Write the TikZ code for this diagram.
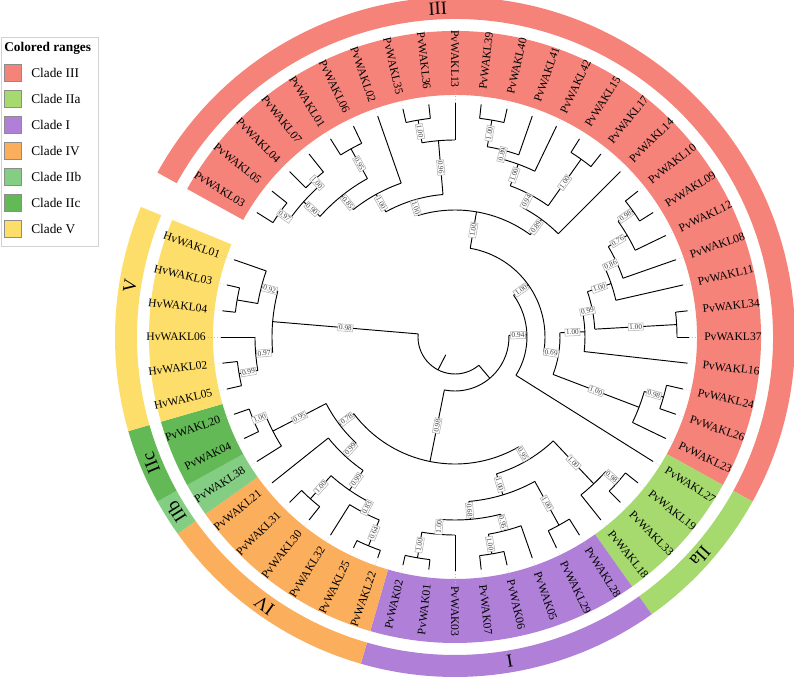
\documentclass[tikz,border=0pt]{standalone}
\usepackage{fontspec}
\setmainfont{Liberation Serif}
\usetikzlibrary{calc}

\definecolor{cIII}{RGB}{245,131,122}
\definecolor{cIIa}{RGB}{166,218,110}
\definecolor{cI}{RGB}{176,128,216}
\definecolor{cIV}{RGB}{251,174,92}
\definecolor{cIIb}{RGB}{131,206,131}
\definecolor{cIIc}{RGB}{99,185,86}
\definecolor{cV}{RGB}{254,222,107}

% reading side of a radial text: sets \rot and \anc
\newcommand\side[1]{%
  \pgfmathsetmacro\nrm{mod(#1+720,360)}%
  \pgfmathtruncatemacro\lft{and(\nrm>89.9,\nrm<269.9)}%
  \ifnum\lft=1 \pgfmathsetmacro\rot{#1+180}\def\anc{east}%
  \else \pgfmathsetmacro\rot{#1}\def\anc{west}\fi}

% ring segment: colour, start angle, end angle, inner r, outer r
\newcommand\band[5]{%
  \fill[#1] (#2:#4) arc[start angle=#2, end angle=#3, radius=#4]
    -- (#3:#5) arc[start angle=#3, end angle=#2, radius=#5] -- cycle;}

% inner node: name, angle, radius, parent radius, first child, last child, support
\newcommand\clade[7]{%
  \draw[branch] (#5:#3) arc[start angle=#5, end angle=#6, radius=#3];
  \coordinate (#1) at (#2:#3);
  \coordinate (#1-b) at (#2:#4);
  \draw[branch] (#1-b) -- (#1);
  \if\relax\detokenize{#7}\relax\else
    \side{#2}%
    \node[boot, rotate=\rot] (#1-s) at ($(#1-b)!0.5!(#1)$) {#7};
  \fi}

% leaf: slot, label, parent radius
\newcommand\leaf[3]{%
  \pgfmathsetmacro\la{180-(#1+5)*6.4285714}%
  \side{\la}%
  \draw[branch] (\la:#3) -- (\la:234);
  \draw[guide] (\la:234) -- (\la:248);
  \node[leaflab, rotate=\rot, anchor=\anc] (#2) at (\la:249) {#2};}

\begin{document}
\begin{tikzpicture}[
    x=0.75pt, y=0.75pt,
    branch/.style={line width=0.7pt, black},
    guide/.style={gray!55, dotted, line width=0.4pt},
    leaflab/.style={font=\fontsize{8.7}{9}\selectfont, inner sep=0pt},
    boot/.style={draw=gray!60, fill=white, text=black!75, inner sep=0.8pt,
                 font=\fontsize{5.5}{6}\selectfont},
    cladelab/.style={font=\fontsize{14}{15}\selectfont, inner sep=0pt},
    legtxt/.style={font=\fontsize{10}{11}\selectfont, anchor=west, inner sep=0pt},
]

    \useasboundingbox (-455,-342) rectangle (339,337);
    \fill[white] (-455,-342) rectangle (339,337);

    % colored ranges
    \foreach \c/\a/\b/\t/\m in {cIII/151.071/-28.929/III/93,
        cIIa/-28.929/-54.643/IIa/-41.8, cI/-54.643/-106.071/I/-80.4,
        cIV/-106.071/-144.643/IV/-125.4, cIIb/-144.643/-151.071/IIb/-147.9,
        cIIc/-151.071/-163.929/IIc/-157.5, cV/-163.929/-202.5/V/-189} {
      \band{\c}{\a}{\b}{242}{306}
      \band{\c}{\a}{\b}{318}{340}
      \node[cladelab, rotate=\m-90] (lab\t) at (\m:329) {\t};
    }

    % legend
    \draw[gray!35, line width=0.4pt] (-454,300) rectangle (-357,91);
    \node[legtxt, font=\fontsize{10}{11}\selectfont\bfseries] (legtitle) at (-451,289) {Colored ranges};
    \foreach \c/\t [count=\k from 0] in {cIII/III, cIIa/IIa, cI/I, cIV/IV,
        cIIb/IIb, cIIc/IIc, cV/V} {
      \pgfmathsetmacro\ly{264.5-26*\k}
      \draw[fill=\c, draw=black!45, line width=0.4pt] (-451,\ly-8.5) rectangle (-434,\ly+8.5);
      \node[legtxt] (leg\t) at (-424,\ly) {Clade \t};
    }

    % tree
    \clade{root}{-117.33}{37}{20}{-184.821}{-49.84}{}
    \clade{nV}{-184.821}{183}{37}{-194.464}{-175.179}{0.98}
    \clade{nX}{-194.464}{200}{183}{-199.286}{-189.643}{0.92}
    \clade{nHa}{-189.643}{221}{200}{-192.857}{-186.429}{}
    \clade{nY}{-175.179}{200}{183}{-180}{-170.357}{0.97}
    \clade{nHb}{-170.357}{219}{200}{-173.571}{-167.143}{0.99}
    \clade{nR1}{-49.84}{54}{37}{-101.35}{1.67}{}
    \clade{nP}{-101.35}{127}{54}{-142.835}{-59.866}{0.98}
    \clade{nQ}{-142.835}{145}{127}{-152.679}{-132.991}{0.78}
    \clade{nIIb}{-152.679}{205}{145}{-157.5}{-147.857}{0.95}
    \clade{nIIc}{-157.5}{218}{205}{-160.714}{-154.286}{1.00}
    \clade{nIV}{-132.991}{162}{145}{-141.429}{-124.554}{0.99}
    \clade{n4244}{-124.554}{186}{162}{-131.786}{-117.321}{0.99}
    \clade{n4344}{-131.786}{217}{186}{-135}{-128.571}{1.00}
    \clade{n42}{-117.321}{198}{186}{-122.143}{-112.5}{0.83}
    \clade{n4041}{-112.5}{226}{198}{-115.714}{-109.286}{0.64}
    \clade{nIIaI}{-59.866}{143}{127}{-73.125}{-46.607}{0.95}
    \clade{nI}{-73.125}{165}{143}{-85.179}{-61.071}{1.00}
    \clade{n3439}{-85.179}{183}{165}{-94.821}{-75.536}{0.68}
    \clade{n37}{-94.821}{198}{183}{-99.643}{-90}{1.00}
    \clade{n3839}{-99.643}{224}{198}{-102.857}{-96.429}{1.00}
    \clade{n34}{-75.536}{200}{183}{-80.357}{-70.714}{0.95}
    \clade{n3536}{-80.357}{220}{200}{-83.571}{-77.143}{1.00}
    \clade{n3233}{-61.071}{215}{165}{-64.286}{-57.857}{1.00}
    \clade{nIIa}{-46.607}{202}{143}{-51.429}{-41.786}{1.00}
    \clade{n2930}{-41.786}{218}{202}{-45}{-38.571}{0.98}
    \clade{nS}{1.67}{72}{54}{-32.143}{35.483}{0.94}
    \clade{nE}{35.483}{90}{72}{-9.292}{80.257}{1.00}
    \clade{nH}{-9.292}{105}{90}{-20.893}{2.31}{0.69}
    \clade{n23}{-20.893}{197}{105}{-25.714}{-16.071}{1.00}
    \clade{n2426}{-16.071}{217}{197}{-19.286}{-12.857}{0.98}
    \clade{n16}{2.31}{130}{105}{-6.429}{11.049}{1.00}
    \clade{n34x}{11.049}{140}{130}{3.214}{18.884}{0.99}
    \clade{n3437}{3.214}{222}{140}{0}{6.429}{1.00}
    \clade{n11}{18.884}{165}{140}{12.857}{24.911}{1.00}
    \clade{n08}{24.911}{178}{165}{19.286}{30.536}{0.86}
    \clade{n12}{30.536}{200}{178}{25.714}{35.357}{0.76}
    \clade{n0910}{35.357}{218}{200}{32.143}{38.571}{0.98}
    \clade{nG}{80.257}{127}{90}{53.638}{106.875}{1.00}
    \clade{nRg}{53.638}{146}{127}{45}{62.277}{0.89}
    \clade{nC}{62.277}{161}{146}{54.643}{69.911}{0.94}
    \clade{n1517}{54.643}{218}{161}{51.429}{57.857}{1.00}
    \clade{n42b}{69.911}{184}{161}{64.286}{75.536}{1.00}
    \clade{n41}{75.536}{193}{184}{70.714}{80.357}{0.89}
    \clade{n3940}{80.357}{220}{193}{77.143}{83.571}{1.00}
    \clade{nL}{106.875}{143}{127}{94.821}{118.929}{1.00}
    \clade{nB}{94.821}{197}{143}{90}{99.643}{0.96}
    \clade{n3536b}{99.643}{220}{197}{96.429}{102.857}{1.00}
    \clade{nA6}{118.929}{163}{143}{109.286}{128.571}{1.00}
    \clade{nA5}{128.571}{181}{163}{118.929}{138.214}{0.85}
    \clade{n0106}{118.929}{215}{181}{115.714}{122.143}{0.95}
    \clade{nA4}{138.214}{203}{181}{131.786}{144.643}{0.90}
    \clade{n0407}{131.786}{211}{203}{128.571}{135}{1.00}
    \clade{n0305}{144.643}{215}{203}{141.429}{147.857}{0.97}

    % leaves
    \foreach \i/\nm/\pr in {0/PvWAKL03/215, 1/PvWAKL05/215, 2/PvWAKL04/211,
        3/PvWAKL07/211, 4/PvWAKL01/215, 5/PvWAKL06/215, 6/PvWAKL02/163,
        7/PvWAKL35/220, 8/PvWAKL36/220, 9/PvWAKL13/197, 10/PvWAKL39/220,
        11/PvWAKL40/220, 12/PvWAKL41/193, 13/PvWAKL42/184, 14/PvWAKL15/218,
        15/PvWAKL17/218, 16/PvWAKL14/146, 17/PvWAKL10/218, 18/PvWAKL09/218,
        19/PvWAKL12/200, 20/PvWAKL08/178, 21/PvWAKL11/165, 22/PvWAKL34/222,
        23/PvWAKL37/222, 24/PvWAKL16/130, 25/PvWAKL24/217, 26/PvWAKL26/217,
        27/PvWAKL23/197, 28/PvWAKL27/72, 29/PvWAKL19/218, 30/PvWAKL33/218,
        31/PvWAKL18/202, 32/PvWAKL28/215, 33/PvWAKL29/215, 34/PvWAK05/200,
        35/PvWAK06/220, 36/PvWAK07/220, 37/PvWAK03/198, 38/PvWAK01/224,
        39/PvWAK02/224, 40/PvWAKL22/226, 41/PvWAKL25/226, 42/PvWAKL32/198,
        43/PvWAKL30/217, 44/PvWAKL31/217, 45/PvWAKL21/162, 46/PvWAKL38/205,
        47/PvWAK04/218, 48/PvWAKL20/218, 49/HvWAKL05/219, 50/HvWAKL02/219,
        51/HvWAKL06/200, 52/HvWAKL04/221, 53/HvWAKL03/221, 54/HvWAKL01/200} {
      \leaf{\i}{\nm}{\pr}
    }

\end{tikzpicture}
\end{document}
